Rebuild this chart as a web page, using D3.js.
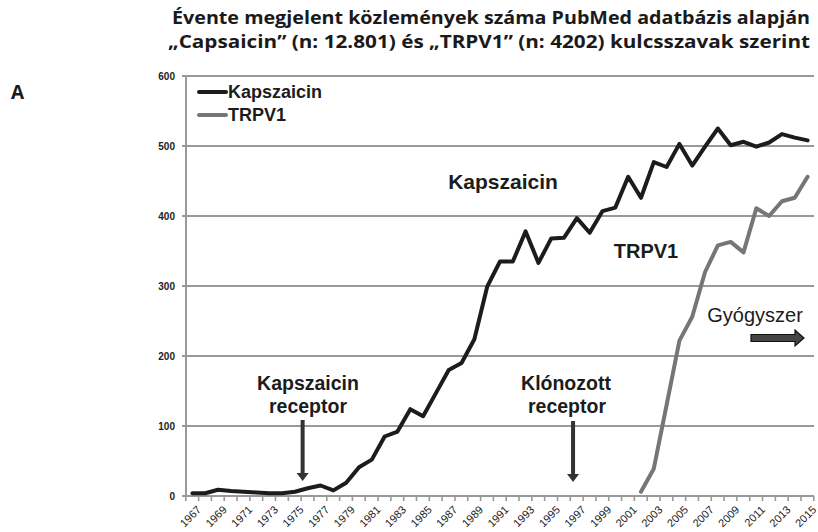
<!DOCTYPE html>
<html>
<head>
<meta charset="utf-8">
<script src="https://cdn.jsdelivr.net/npm/d3@7"></script>
<style>
  body { margin: 0; background: #fff; }
  svg { display: block; }
</style>
</head>
<body>
<div id="chart"></div>
<script>
// years on the category axis
var years = d3.range(1967, 2016);
var yearLabels = years.filter(function(y) { return (y - 1967) % 2 === 0; });

// publications per year
var kapszaicin = [4, 4, 9, 7, 6, 5, 4, 4, 6, 11, 15, 8, 19, 41, 52, 85,
                  92, 124, 114, 147, 180, 190, 224, 299, 335, 335, 378, 333,
                  368, 369, 397, 376, 407, 412, 456, 426, 477, 470, 503, 472,
                  499, 525, 501, 506, 499, 505, 517, 512, 508];
var trpv1Years = d3.range(2002, 2016);
var trpv1 = [6, 39, 130, 222, 256, 320, 358, 363, 348, 411, 400, 421, 426, 456];

var yTicks = [0, 100, 200, 300, 400, 500, 600];

var width = 818, height = 532;
var margin = {left: 186, right: 4, top: 76, bottom: 36};
var gridColor = "#999999";

var svg = d3.select("#chart").append("svg")
    .attr("width", width)
    .attr("height", height);

var x = d3.scaleBand()
    .domain(years)
    .range([margin.left, width - margin.right]);

// continuous year scale for the annotation arrows
var xYear = d3.scaleLinear()
    .domain([1967, 2015])
    .range([x(1967) + x.bandwidth() / 2, x(2015) + x.bandwidth() / 2]);

var y = d3.scaleLinear()
    .domain([0, 600])
    .range([height - margin.bottom, margin.top]);

// title
var title = svg.append("g")
    .attr("font-family", "'Open Sans', sans-serif")
    .attr("font-weight", "bold")
    .attr("font-size", 17)
    .attr("fill", "#1a1a1a")
    .attr("xml:space", "preserve")
    .style("white-space", "pre");
title.append("text")
    .attr("x", 172).attr("y", 24)
    .attr("textLength", 638).attr("lengthAdjust", "spacingAndGlyphs")
    .text("Évente megjelent közlemények száma PubMed adatbázis alapján");
title.append("text")
    .attr("x", 168).attr("y", 48)
    .attr("textLength", 642).attr("lengthAdjust", "spacingAndGlyphs")
    .text("„Capsaicin” (n: 12.801)  és  „TRPV1” (n: 4202) kulcsszavak szerint");

svg.append("text")
    .attr("x", 11).attr("y", 99)
    .attr("font-family", "'Open Sans', sans-serif")
    .attr("font-weight", "bold")
    .attr("font-size", 19)
    .attr("fill", "#1a1a1a")
    .text("A");

// gridlines (2px bars)
svg.append("g")
    .selectAll("rect")
    .data(yTicks)
    .join("rect")
    .attr("x", margin.left - 4)
    .attr("y", function(d) { return y(d) - 1; })
    .attr("width", width - margin.right - margin.left + 4)
    .attr("height", 2)
    .attr("fill", gridColor)
    .attr("shape-rendering", "crispEdges");

// y axis
var yAxis = svg.append("g")
    .attr("transform", "translate(" + margin.left + ",0)")
    .call(d3.axisLeft(y).tickValues(yTicks).tickSize(0).tickPadding(11));
yAxis.select(".domain").remove();
yAxis.selectAll(".tick text")
    .attr("font-family", "'Liberation Sans', Arial, sans-serif")
    .attr("font-size", 10)
    .attr("font-weight", "bold")
    .attr("fill", "#222");
svg.append("rect")
    .attr("x", margin.left - 1).attr("y", y(600) - 1)
    .attr("width", 2).attr("height", y(0) - y(600) + 2)
    .attr("fill", gridColor)
    .attr("shape-rendering", "crispEdges");

// x axis: ticks between categories
var xAxis = svg.append("g")
    .attr("transform", "translate(0," + y(0) + ")");
xAxis.selectAll(".tk")
    .data(years.concat([2016]))
    .join("rect")
    .attr("class", "tk")
    .attr("x", function(d) {
        return (d === 2016 ? x(2015) + x.bandwidth() : x(d)) - 1;
    })
    .attr("y", 0)
    .attr("width", 1.6).attr("height", 5)
    .attr("fill", gridColor);
xAxis.selectAll("text")
    .data(yearLabels)
    .join("text")
    .attr("transform", function(d) {
        return "translate(" + (x(d) + x.bandwidth() / 2 + 4) + ",9) rotate(-45)";
    })
    .attr("text-anchor", "end")
    .attr("dy", "0.7em")
    .attr("font-family", "'Liberation Sans', Arial, sans-serif")
    .attr("font-size", 11)
    .attr("fill", "#222")
    .text(function(d) { return d; });

// lines
var line = d3.line()
    .x(function(d) { return x(d[0]) + x.bandwidth() / 2; })
    .y(function(d) { return y(d[1]); });

svg.append("path")
    .datum(years.map(function(yr, i) { return [yr, kapszaicin[i]]; }))
    .attr("fill", "none")
    .attr("stroke", "#1c1c1c")
    .attr("stroke-width", 4)
    .attr("stroke-linejoin", "round")
    .attr("stroke-linecap", "round")
    .attr("d", line);

svg.append("path")
    .datum(trpv1Years.map(function(yr, i) { return [yr, trpv1[i]]; }))
    .attr("fill", "none")
    .attr("stroke", "#767676")
    .attr("stroke-width", 4)
    .attr("stroke-linejoin", "round")
    .attr("stroke-linecap", "round")
    .attr("d", line);

// legend
var legend = svg.append("g")
    .attr("font-family", "'Liberation Sans', Arial, sans-serif")
    .attr("font-weight", "bold")
    .attr("font-size", 18)
    .attr("fill", "#1c1c1c");
[["Kapszaicin", "#1c1c1c"], ["TRPV1", "#767676"]].forEach(function(d, i) {
    var ly = 92 + i * 23;
    legend.append("line")
        .attr("x1", 199).attr("x2", 226)
        .attr("y1", ly).attr("y2", ly)
        .attr("stroke", d[1]).attr("stroke-width", 4)
        .attr("stroke-linecap", "round");
    legend.append("text")
        .attr("x", 228).attr("y", ly + 6)
        .text(d[0]);
});

// annotations
var ann = svg.append("g")
    .attr("font-family", "'Liberation Sans', Arial, sans-serif")
    .attr("fill", "#1c1c1c");
function label(txt, cx, cy, size, weight) {
    ann.append("text")
        .attr("x", cx).attr("y", cy)
        .attr("text-anchor", "middle")
        .attr("font-size", size)
        .attr("font-weight", weight)
        .text(txt);
}
label("Kapszaicin", 503, 189, 21, "bold");
label("TRPV1", 646, 258, 20, "bold");
label("Gyógyszer", 755, 322, 20, "normal");
label("Kapszaicin", 308, 390, 19.5, "bold");
label("receptor", 308, 413, 19.5, "bold");
label("Klónozott", 566, 390, 19.5, "bold");
label("receptor", 567, 413, 19.5, "bold");

function downArrow(yr, top, bottom) {
    var cx = xYear(yr);
    ann.append("path")
        .attr("d", "M" + (cx - 2) + "," + top + "V" + (bottom - 8) +
                   "H" + (cx - 6) + "L" + cx + "," + bottom +
                   "L" + (cx + 6) + "," + (bottom - 8) +
                   "H" + (cx + 2) + "V" + top + "Z")
        .attr("fill", "#333");
}
downArrow(1975.6, 420, 481);
downArrow(1996.7, 421, 482);

// block arrow for Gyógyszer
ann.append("path")
    .attr("d", "M751,334.5H795V330L804,338L795,346V341.5H751Z")
    .attr("fill", "#444")
    .attr("stroke", "#111")
    .attr("stroke-width", 1.2);
</script>
</body>
</html>
